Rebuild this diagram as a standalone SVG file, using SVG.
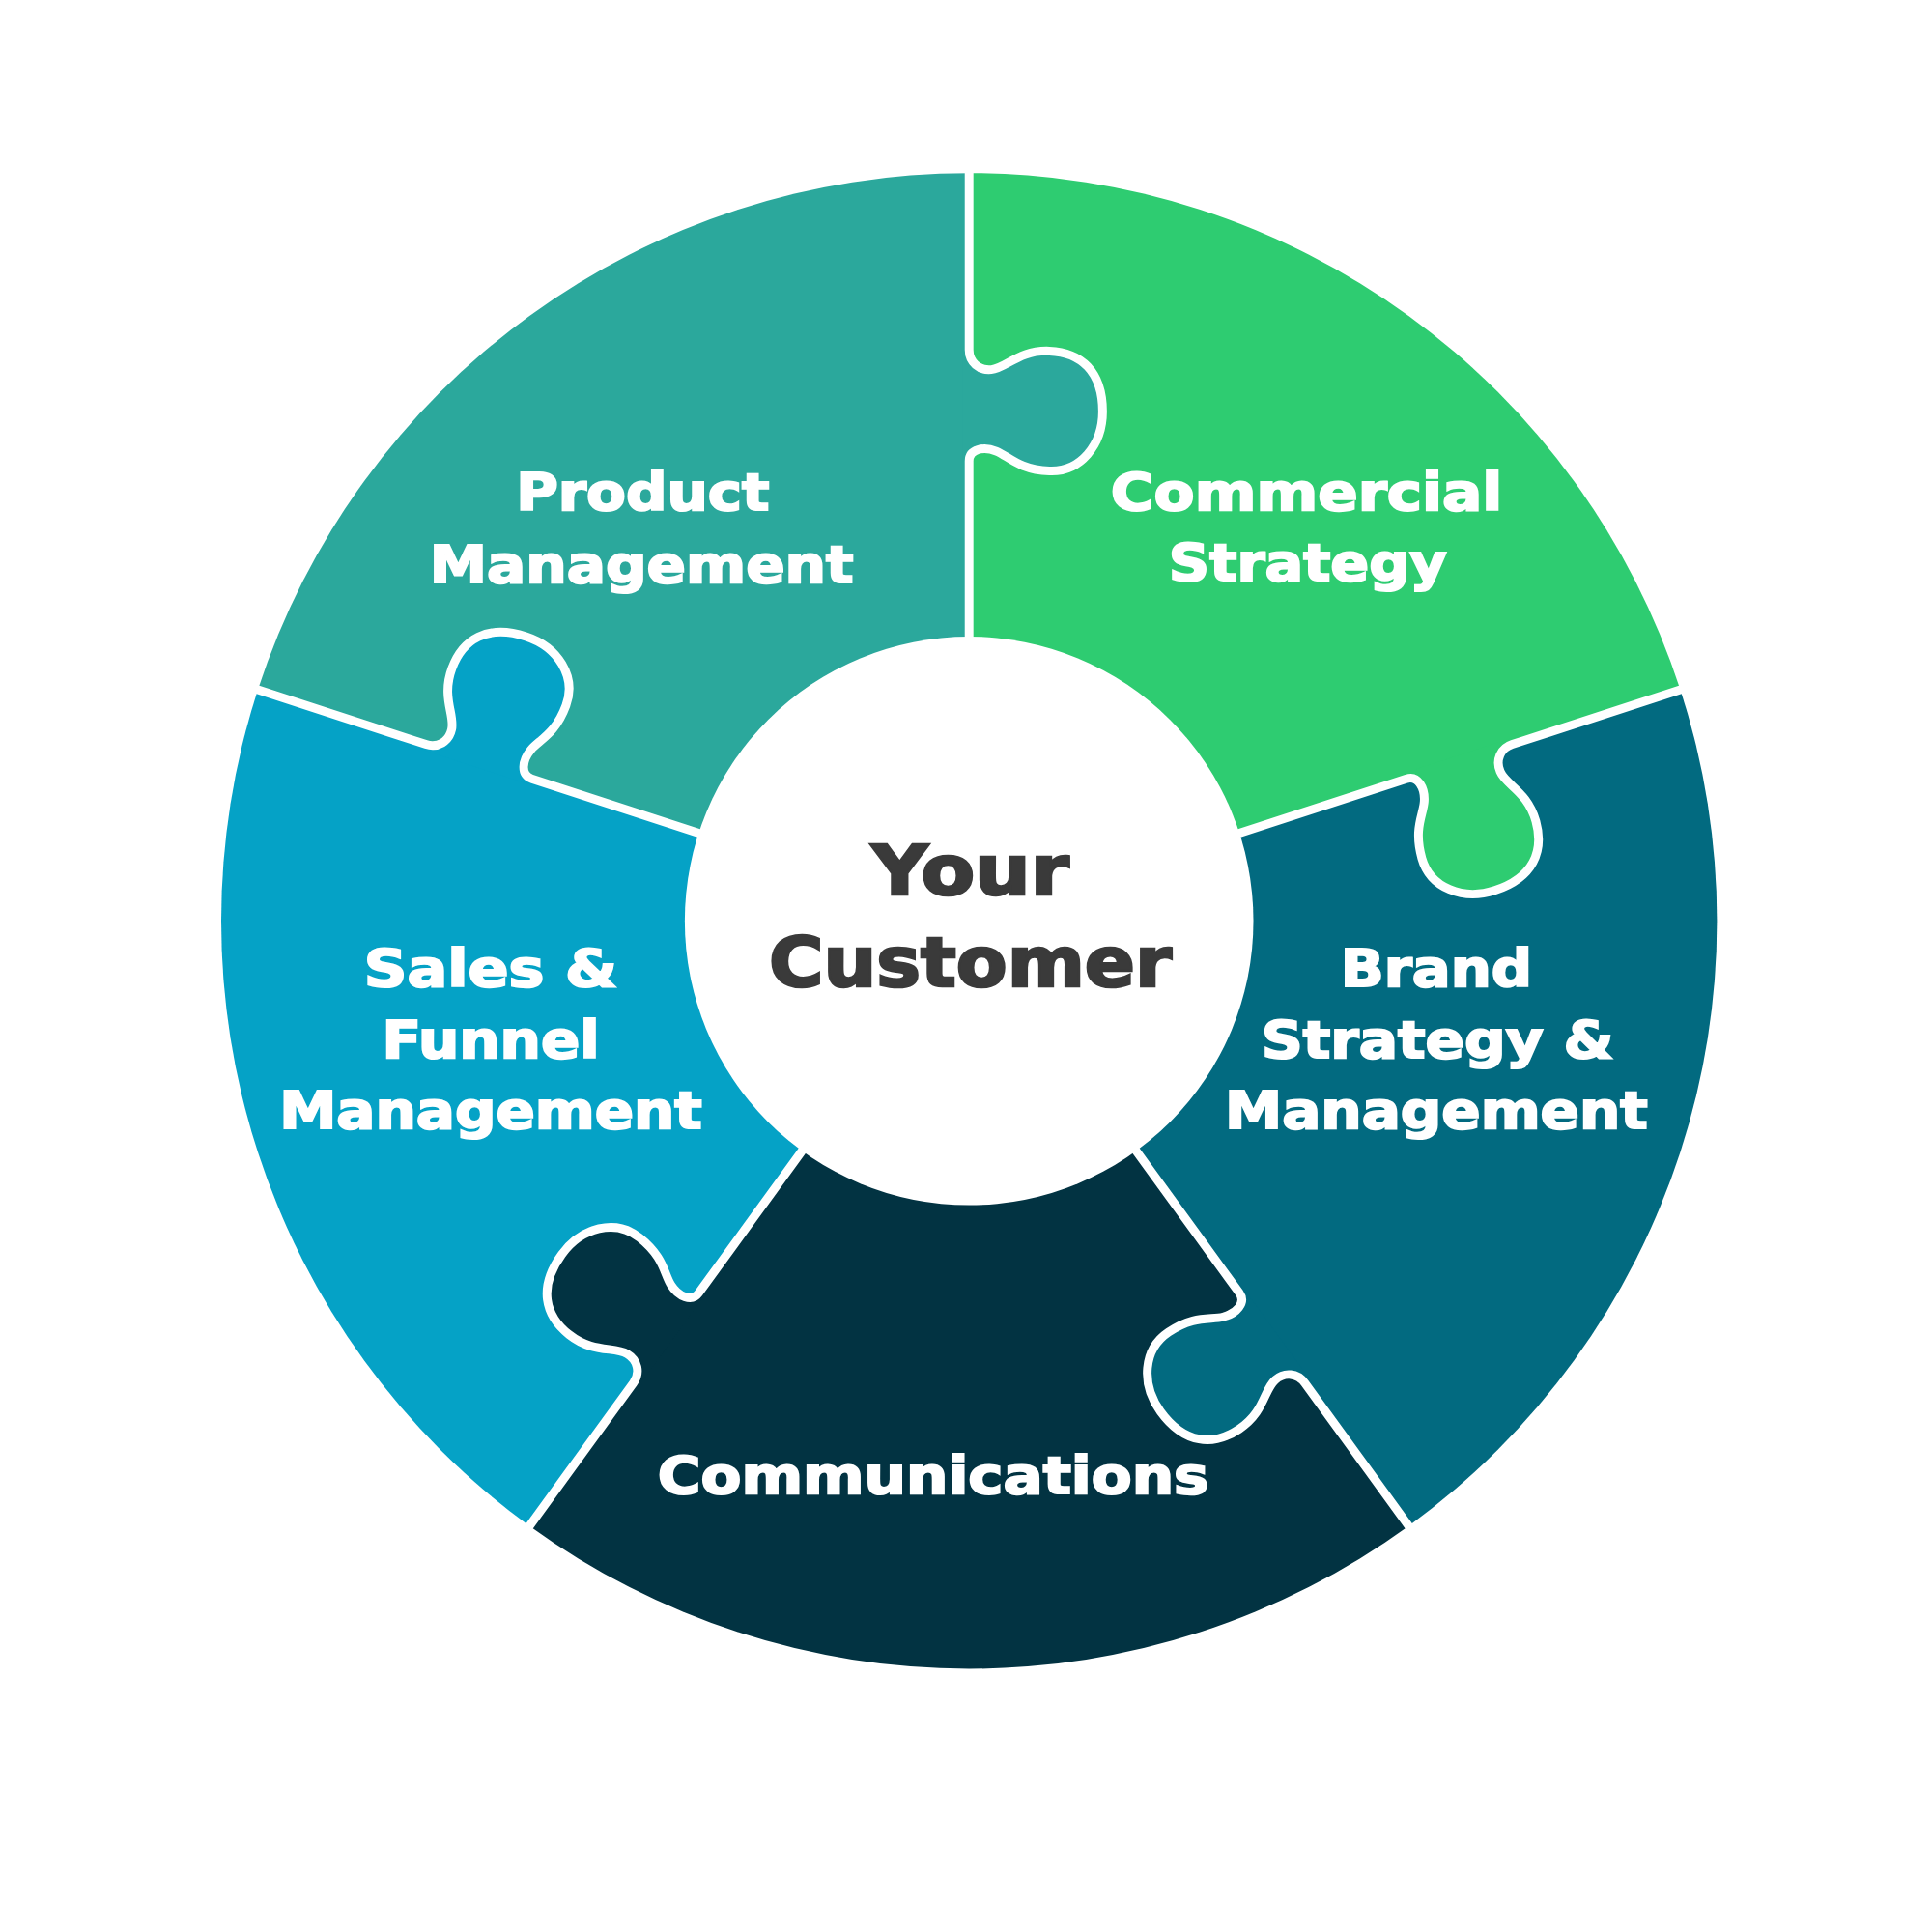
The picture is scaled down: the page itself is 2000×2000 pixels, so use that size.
<svg xmlns="http://www.w3.org/2000/svg" width="2000" height="2000" viewBox="0 0 2000 2000">
<style>
.lbl{font-family:"DejaVu Sans","Liberation Sans",sans-serif;font-weight:bold;font-size:41px;fill:#ffffff;stroke:#ffffff;stroke-width:1.6;text-anchor:middle}
.ctr{font-family:"DejaVu Sans","Liberation Sans",sans-serif;font-weight:bold;font-size:55px;fill:#3a3a3a;stroke:#3a3a3a;stroke-width:2;text-anchor:middle}
.div{fill:none;stroke:#ffffff;stroke-width:7;stroke-linejoin:round}
</style>
<defs>
<path id="tab" d="M-5,-372 L0,-372 C0,-382 12,-384 22,-380 C32,-376 40,-365 65,-364 C90,-363 108,-385 108,-412 C108,-445 90,-460 65,-461 C40,-462 30,-447 18,-446 C8,-445 0,-452 0,-462 L-5,-462 Z"/>
<path id="line" d="M0,-228 L0,-372 C0,-382 12,-384 22,-380 C32,-376 40,-365 65,-364 C90,-363 108,-385 108,-412 C108,-445 90,-460 65,-461 C40,-462 30,-447 18,-446 C8,-445 0,-452 0,-462 L0,-610"/>
</defs>
<rect width="2000" height="2000" fill="#ffffff"/>
<g transform="scale(1.27959)">
<g id="sectors">
<path id="product" d="M784,745 L784,140 A605,605 0 0 0 208.6,558 Z" fill="#2BA89C"/>
<path id="sales" d="M784,745 L208.6,558 A605,605 0 0 0 428.4,1234.5 Z" fill="#05A2C6"/>
<path id="communications" d="M784,745 L428.4,1234.5 A605,605 0 0 0 1139.6,1234.5 Z" fill="#023342"/>
<path id="brand" d="M784,745 L1139.6,1234.5 A605,605 0 0 0 1359.4,558 Z" fill="#026A80"/>
<path id="commercial" d="M784,745 L1359.4,558 A605,605 0 0 0 784,140 Z" fill="#2ECC71"/>
</g>
<g id="connectors">
<g transform="translate(784,745) rotate(0)"><use href="#tab" fill="#2BA89C"/><use href="#line" class="div"/></g>
<g transform="translate(784,745) rotate(72)"><use href="#tab" fill="#2ECC71"/><use href="#line" class="div"/></g>
<g transform="translate(784,745) rotate(144)"><use href="#tab" fill="#026A80"/><use href="#line" class="div"/></g>
<g transform="translate(784,745) rotate(216)"><use href="#tab" fill="#023342"/><use href="#line" class="div"/></g>
<g transform="translate(784,745) rotate(288)"><use href="#tab" fill="#05A2C6"/><use href="#line" class="div"/></g>
</g>
<g id="center">
<circle cx="784" cy="745" r="230" fill="#ffffff"/>
<text class="ctr" x="785" y="724" textLength="160" lengthAdjust="spacingAndGlyphs">Your</text>
<text class="ctr" x="785" y="798" textLength="326" lengthAdjust="spacingAndGlyphs">Customer</text>
</g>
<g id="labels">
<text class="lbl" x="520" y="413" textLength="205" lengthAdjust="spacingAndGlyphs">Product</text>
<text class="lbl" x="519" y="471" textLength="343" lengthAdjust="spacingAndGlyphs">Management</text>
<text class="lbl" x="1057" y="413" textLength="317" lengthAdjust="spacingAndGlyphs">Commercial</text>
<text class="lbl" x="1058" y="470" textLength="225" lengthAdjust="spacingAndGlyphs">Strategy</text>
<text class="lbl" x="397" y="798" textLength="205" lengthAdjust="spacingAndGlyphs">Sales &amp;</text>
<text class="lbl" x="397" y="856" textLength="176" lengthAdjust="spacingAndGlyphs">Funnel</text>
<text class="lbl" x="397" y="913" textLength="342" lengthAdjust="spacingAndGlyphs">Management</text>
<text class="lbl" x="1162" y="798" textLength="155" lengthAdjust="spacingAndGlyphs">Brand</text>
<text class="lbl" x="1163" y="856" textLength="285" lengthAdjust="spacingAndGlyphs">Strategy &amp;</text>
<text class="lbl" x="1162" y="913" textLength="342" lengthAdjust="spacingAndGlyphs">Management</text>
<text class="lbl" x="755" y="1208" textLength="446" lengthAdjust="spacingAndGlyphs">Communications</text>
</g>
</g>
</svg>
